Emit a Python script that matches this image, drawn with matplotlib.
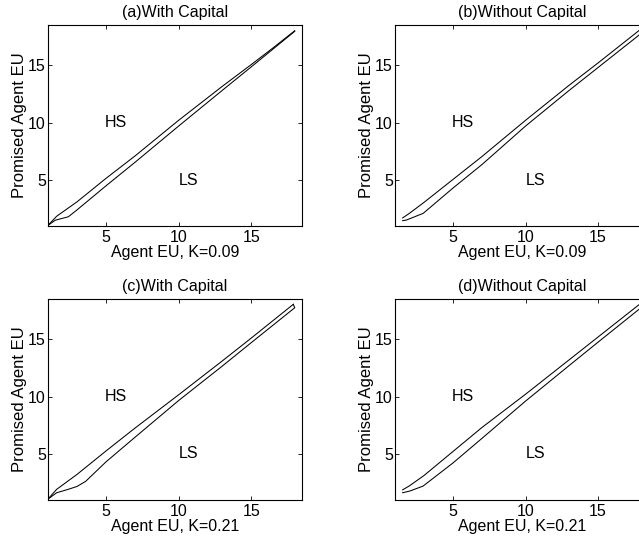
import matplotlib.pyplot as plt

plt.rcParams['font.family'] = ['Liberation Sans', 'DejaVu Sans']
plt.rcParams['font.size'] = 11.5

titles = ['(a)With Capital', '(b)Without Capital', '(c)With Capital', '(d)Without Capital']
xlabels = ['Agent EU, K=0.09', 'Agent EU, K=0.09', 'Agent EU, K=0.21', 'Agent EU, K=0.21']

# upper boundary (HS side) of each panel
upper_x_a = [1, 1.6, 3, 5, 7, 10, 13, 15, 16.5, 18]
upper_y_a = [1.05, 1.85, 3.1, 5.15, 7.1, 10.2, 13.15, 15.05, 16.5, 18]
upper_x_b = [1.53, 2.0, 3, 5, 7, 10, 13, 15, 17.7, 18]
upper_y_b = [1.7, 2.1, 3.05, 5.05, 7.05, 10.2, 13.25, 15.2, 17.9, 18.2]
upper_x_c = [1, 1.6, 3, 5, 7, 10, 13, 15, 17.9]
upper_y_c = [1.05, 1.9, 3.2, 5.25, 7.25, 10.15, 13.1, 15.1, 18.05]
upper_x_d = [1.53, 2.0, 3, 5, 7, 10, 13, 15, 18]
upper_y_d = [1.85, 2.2, 3.1, 5.2, 7.3, 10.2, 13.2, 15.2, 18.2]

# lower boundary (LS side) of each panel
lower_x_a = [1, 1.5, 2.4, 3, 5, 7, 10, 13, 15, 16.5, 18]
lower_y_a = [1.05, 1.5, 1.8, 2.4, 4.5, 6.55, 9.7, 12.8, 14.85, 16.4, 17.95]
lower_x_b = [1.53, 1.8, 2.95, 5, 7, 10, 13, 15, 17.7, 18]
lower_y_b = [1.46, 1.52, 2.1, 4.3, 6.35, 9.7, 12.8, 14.8, 17.5, 17.8]
lower_x_c = [1, 1.6, 2.4, 3.0, 3.6, 5, 7, 10, 13, 15, 18.0, 17.9]
lower_y_c = [1.05, 1.6, 1.9, 2.15, 2.6, 4.3, 6.45, 9.65, 12.65, 14.7, 17.75, 18.05]
lower_x_d = [1.53, 2.03, 2.94, 5, 7, 10, 13, 15, 18]
lower_y_d = [1.6, 1.75, 2.18, 4.2, 6.35, 9.6, 12.7, 14.75, 17.8]

uppers = [(upper_x_a, upper_y_a), (upper_x_b, upper_y_b), (upper_x_c, upper_y_c), (upper_x_d, upper_y_d)]
lowers = [(lower_x_a, lower_y_a), (lower_x_b, lower_y_b), (lower_x_c, lower_y_c), (lower_x_d, lower_y_d)]

ticks = [5, 10, 15]

fig = plt.figure(figsize=(6.39, 5.41), dpi=100)
# axes boxes in figure fractions (right column runs past the figure edge)
positions = [[0.0751, 0.5823, 0.3975, 0.3715],
             [0.618, 0.5823, 0.3975, 0.3715],
             [0.0751, 0.0765, 0.3975, 0.3705],
             [0.618, 0.0765, 0.3975, 0.3705]]

for i in range(4):
    ax = fig.add_axes(positions[i])
    ax.plot(uppers[i][0], uppers[i][1], color='black', lw=0.75)
    ax.plot(lowers[i][0], lowers[i][1], color='black', lw=0.75)
    ax.text(5.7, 10, 'HS', ha='center', va='center', fontsize=11.5)
    ax.text(10.7, 5, 'LS', ha='center', va='center', fontsize=11.5)
    ax.set_xlim(1, 18.5)
    ax.set_ylim(1, 18.5)
    ax.set_xticks(ticks)
    ax.set_yticks(ticks)
    ax.tick_params(direction='in', top=True, right=True, length=3, width=0.6, labelsize=11.5)
    ax.tick_params(axis='x', pad=3)
    ax.tick_params(axis='y', pad=1.5)
    for s in ax.spines.values():
        s.set_linewidth(0.8)
    ax.set_title(titles[i], fontsize=11.5, pad=6)
    ax.set_xlabel(xlabels[i], fontsize=11.5, labelpad=0)
    ax.set_ylabel('Promised Agent EU', fontsize=12, labelpad=1)

fig.savefig('out.png', dpi=100)
